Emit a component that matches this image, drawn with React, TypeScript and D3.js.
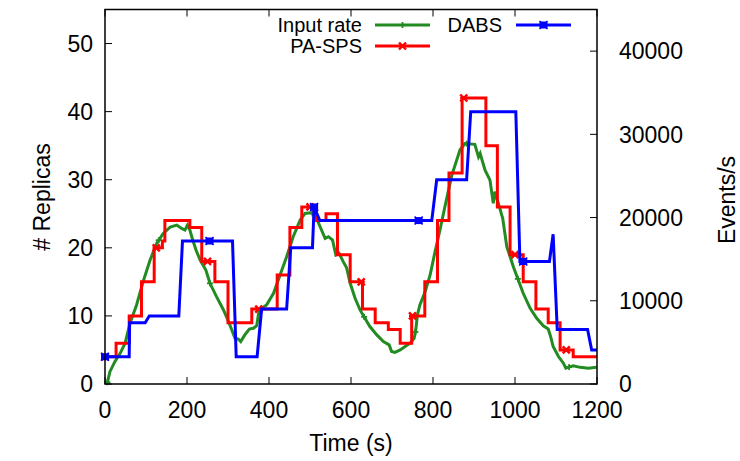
import React from "react";
import * as d3 from "d3";

// ---- Data ----
// Input rate (events/s, right axis)
const inputTime = [5,12,24,37,49,61,77,93,110,126,142,159,175,187,195,201,207,214,222,232,246,256,272,289,303,317,325,331,341,352,362,370,376,394,411,427,443,459,476,488,504,516,528,537,545,555,563,571,581,589,598,610,622,634,646,663,679,693,699,707,720,732,744,754,758,762,768,781,793,805,817,829,846,866,878,902,911,915,927,939,947,951,963,970,980,996,1008,1020,1037,1053,1069,1081,1087,1093,1106,1118,1124,1142,1159,1179,1199];
const inputRate = [0,1480,2680,3690,4900,7300,9500,12300,14900,16900,18100,18850,19100,18700,18500,19100,18500,17300,16100,14900,13700,12100,10500,8900,7300,5500,5400,5100,5900,6600,6700,7000,8900,9500,10900,13100,15300,17700,19700,20500,20600,19900,18500,17500,17700,17300,15500,15700,14700,14000,12100,10300,8900,7900,6900,5900,5100,4700,3900,3800,4100,4500,4900,5500,6500,8300,9500,11100,13100,15900,18500,21300,25100,28150,28900,28800,27300,27700,25700,24500,21700,23100,21100,19900,16500,14100,12500,10900,9100,7900,7000,6600,5700,4500,3300,2500,1900,2200,2000,1900,2000];
const inputMarkTimes = [6,131,256,381,506,632,757,882,1007,1132];

// PA-SPS replicas (step)
const paTime = [0,27,59,89,120,140,146,207,236,268,300,358,420,451,480,516,539,567,598,628,659,691,720,748,780,811,839,871,929,957,988,1020,1051,1081,1110,1142,1200];
const paReplicas = [4,6,10,15,20,21,24,23,18,15,9,11,16,23,26,24,25,19,15,11,9,8,6,10,15,24,31,42,35,26,19,15,11,9,5,4,4];
const paMarkTimes = [0,125,250,375,500,625,750,875,1000,1125];

// DABS replicas
const dabsTime = [0,59,60,98,108,180,189,311,320,371,382,443,453,506,510,524,797,809,882,892,1002,1012,1084,1093,1103,1177,1187,1200];
const dabsReplicas = [4,4,9,9,10,10,21,21,4,4,11,11,20,20,26,24,24,30,30,40,40,18,18,22,8,8,5,5];
const dabsMarkTimes = [0,255,510,765,1020];

const xTicks = [0,200,400,600,800,1000,1200];
const yLeftTicks = [0,10,20,30,40,50];
const yRightTicks = [0,10000,20000,30000,40000];

const GREEN = "#228b22";
const RED = "#ff0000";
const BLUE = "#0000ff";
const FONT = "'Liberation Sans', Arial, Helvetica, sans-serif";

const W = 740, H = 461;
const L = 105, R = 597, T = 9.5, B = 384;

function stepValueAt(ts: number[], vs: number[], t: number) {
  let v = vs[0];
  for (let i = 0; i < ts.length; i++) if (ts[i] <= t) v = vs[i];
  return v;
}
function linValueAt(ts: number[], vs: number[], t: number) {
  if (t <= ts[0]) return vs[0];
  for (let i = 1; i < ts.length; i++) {
    if (ts[i] >= t) {
      const f = (t - ts[i - 1]) / (ts[i] - ts[i - 1] || 1);
      return vs[i - 1] + f * (vs[i] - vs[i - 1]);
    }
  }
  return vs[vs.length - 1];
}

function GreenMark({ x, y }: { x: number; y: number }) {
  return (
    <g stroke={GREEN} strokeWidth={1.8}>
      <line x1={x - 3} y1={y} x2={x + 3} y2={y} />
      <line x1={x} y1={y - 3} x2={x} y2={y + 3} />
    </g>
  );
}
function RedMark({ x, y }: { x: number; y: number }) {
  const s = 3.5;
  return (
    <g stroke={RED} strokeWidth={2.4}>
      <line x1={x - s} y1={y - s} x2={x + s} y2={y + s} />
      <line x1={x - s} y1={y + s} x2={x + s} y2={y - s} />
      <line x1={x - s} y1={y} x2={x + s} y2={y} />
    </g>
  );
}
function BlueMark({ x, y }: { x: number; y: number }) {
  return (
    <g>
      <rect x={x - 4} y={y - 3.5} width={8} height={7} fill={BLUE} />
      <g stroke={BLUE} strokeWidth={1.5}>
        <line x1={x - 4} y1={y - 4} x2={x + 4} y2={y + 4} />
        <line x1={x - 4} y1={y + 4} x2={x + 4} y2={y - 4} />
      </g>
    </g>
  );
}

export default function App() {
  const x = d3.scaleLinear().domain([0, 1200]).range([L, R]);
  const yL = d3.scaleLinear().domain([0, 55]).range([B, T]);
  const yR = d3.scaleLinear().domain([0, 45000]).range([B, T]);

  const greenPts: [number, number][] = inputTime.map((t, i) => [t, inputRate[i]]);
  const redPts: [number, number][] = paTime.map((t, i) => [t, paReplicas[i]]);
  const bluePts: [number, number][] = dabsTime.map((t, i) => [t, dabsReplicas[i]]);

  const greenLine = d3.line<[number, number]>().x(d => x(d[0])).y(d => yR(d[1]))(greenPts) || "";
  const redLine = d3.line<[number, number]>().curve(d3.curveStepAfter).x(d => x(d[0])).y(d => yL(d[1]))(redPts) || "";
  const blueLine = d3.line<[number, number]>().x(d => x(d[0])).y(d => yL(d[1]))(bluePts) || "";

  const tickLen = 7;
  const tickFont = 23;

  return (
    <svg width={W} height={H} style={{ position: "absolute", left: 0, top: 0, background: "#fff" }} fontFamily={FONT}>
      <rect x={0} y={0} width={W} height={H} fill="#fff" />
      {/* ticks */}
      <g stroke="#000" strokeWidth={1}>
        {xTicks.map(t => (
          <g key={"xt" + t}>
            <line x1={x(t)} x2={x(t)} y1={B} y2={B - tickLen} />
            <line x1={x(t)} x2={x(t)} y1={T} y2={T + tickLen} />
          </g>
        ))}
        {yLeftTicks.map(v => (
          <line key={"yl" + v} x1={L} x2={L + tickLen} y1={yL(v)} y2={yL(v)} />
        ))}
        {yRightTicks.map(v => (
          <line key={"yr" + v} x1={R} x2={R - tickLen} y1={yR(v)} y2={yR(v)} />
        ))}
      </g>
      {/* series */}
      <path d={greenLine} fill="none" stroke={GREEN} strokeWidth={3} strokeLinejoin="miter" />
      {inputMarkTimes.map(t => (
        <GreenMark key={"gm" + t} x={x(t)} y={yR(linValueAt(inputTime, inputRate, t))} />
      ))}
      <path d={redLine} fill="none" stroke={RED} strokeWidth={3} strokeLinejoin="miter" />
      {paMarkTimes.map(t => (
        <RedMark key={"rm" + t} x={x(t)} y={yL(stepValueAt(paTime, paReplicas, t))} />
      ))}
      <path d={blueLine} fill="none" stroke={BLUE} strokeWidth={3} strokeLinejoin="miter" />
      {dabsMarkTimes.map(t => (
        <BlueMark key={"bm" + t} x={x(t)} y={yL(linValueAt(dabsTime, dabsReplicas, t))} />
      ))}
      {/* frame */}
      <rect x={L} y={T} width={R - L} height={B - T} fill="none" stroke="#000" strokeWidth={1.5} />
      {/* tick labels */}
      <g fontSize={tickFont} fill="#000">
        {xTicks.map(t => (
          <text key={"xl" + t} x={x(t)} y={418} textAnchor="middle">{t}</text>
        ))}
        {yLeftTicks.map(v => (
          <text key={"yll" + v} x={93} y={yL(v)} dy="0.36em" textAnchor="end">{v}</text>
        ))}
        {yRightTicks.map(v => (
          <text key={"yrl" + v} x={619} y={yR(v)} dy="0.36em" textAnchor="start">{v}</text>
        ))}
      </g>
      {/* axis titles */}
      <text x={(L + R) / 2} y={451} textAnchor="middle" fontSize={tickFont}>Time (s)</text>
      <text transform={`translate(50,197) rotate(-90)`} textAnchor="middle" fontSize={tickFont}># Replicas</text>
      <text transform={`translate(735,200) rotate(-90)`} textAnchor="middle" fontSize={tickFont}>Events/s</text>
      {/* legend */}
      <g fontSize={20}>
        <text x={362} y={32} textAnchor="end">Input rate</text>
        <line x1={375} x2={430} y1={25} y2={25} stroke={GREEN} strokeWidth={3} />
        <GreenMark x={402.5} y={25} />
        <text x={362} y={53} textAnchor="end">PA-SPS</text>
        <line x1={375} x2={430} y1={46} y2={46} stroke={RED} strokeWidth={3} />
        <RedMark x={402.5} y={46} />
        <text x={502} y={32} textAnchor="end">DABS</text>
        <line x1={516} x2={571} y1={25} y2={25} stroke={BLUE} strokeWidth={3} />
        <BlueMark x={543.5} y={25} />
      </g>
    </svg>
  );
}
